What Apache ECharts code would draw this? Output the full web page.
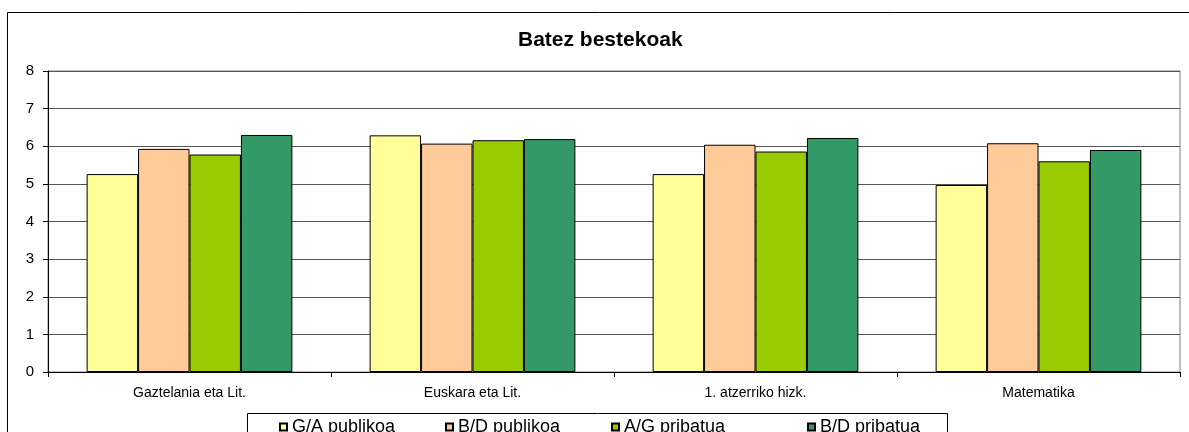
<!DOCTYPE html>
<html>
<head>
<meta charset="utf-8">
<title>Batez bestekoak</title>
<script src="https://cdn.jsdelivr.net/npm/echarts@6/dist/echarts.min.js"></script>
<style>
  html, body { margin: 0; padding: 0; background: #fff; }
  #main { width: 1189px; height: 432px; }
</style>
</head>
<body>
<div id="main"></div>
<script>
// datuak
var categories = ['Gaztelania eta Lit.', 'Euskara eta Lit.', '1. atzerriko hizk.', 'Matematika'];
var gaPublikoa = [5.26, 6.29, 5.26, 4.97];
var bdPublikoa = [5.93, 6.07, 6.04, 6.08];
var agPribatua = [5.78, 6.16, 5.86, 5.60];
var bdPribatua = [6.30, 6.19, 6.22, 5.90];
var seriesNames = ['G/A publikoa', 'B/D publikoa', 'A/G pribatua', 'B/D pribatua'];
var yTicks = [0, 1, 2, 3, 4, 5, 6, 7, 8];

var font = 'Liberation Sans, Arial, sans-serif';
var colors = ['#FFFF99', '#FFCC99', '#99CC00', '#339966'];
var values = [gaPublikoa, bdPublikoa, agPribatua, bdPribatua];

// legend bakoitza bere lekuan (Excel-en antzera)
var legendLeft = [279, 445, 611, 807];
var legends = seriesNames.map(function (name, i) {
  return {
    data: [name],
    left: legendLeft[i],
    top: 418,
    padding: 0,
    itemWidth: 7,
    itemHeight: 7,
    itemGap: 0,
    icon: 'rect',
    selectedMode: false,
    textStyle: { fontFamily: font, fontSize: 18, color: '#000' }
  };
});

var myChart = echarts.init(document.getElementById('main'));
myChart.setOption({
  animation: false,
  backgroundColor: '#fff',
  color: colors,
  title: {
    text: 'Batez bestekoak',
    left: 518,
    top: 30,
    padding: 0,
    textStyle: { fontFamily: font, fontSize: 21, fontWeight: 'bold', color: '#000' }
  },
  legend: legends,
  grid: {
    left: 48,
    right: 9,
    top: 71,
    bottom: 60,
    show: true,
    borderColor: '#808080',
    borderWidth: 1,
    containLabel: false
  },
  xAxis: {
    type: 'category',
    data: categories,
    axisLine: { lineStyle: { color: '#000', width: 1 } },
    axisTick: { show: true, length: 5, lineStyle: { color: '#000' } },
    axisLabel: { fontFamily: font, fontSize: 14, color: '#000', margin: 14 },
    splitLine: { show: false }
  },
  yAxis: {
    type: 'value',
    min: yTicks[0],
    max: yTicks[yTicks.length - 1],
    interval: 1,
    axisLine: { show: true, lineStyle: { color: '#000', width: 1 } },
    axisTick: { show: true, length: 5, lineStyle: { color: '#000' } },
    axisLabel: { fontFamily: font, fontSize: 15, color: '#000', margin: 14 },
    splitLine: { show: true, lineStyle: { color: '#555', width: 1 } }
  },
  series: seriesNames.map(function (name, i) {
    return {
      name: name,
      type: 'bar',
      data: values[i],
      barGap: '0%',
      barCategoryGap: '27.3%',
      itemStyle: { color: colors[i], borderColor: '#000', borderWidth: 1 }
    };
  }),
  graphic: [
    {
      // grafikoaren kanpoko ertza
      type: 'rect',
      silent: true,
      z: -1,
      shape: { x: 7.5, y: 12.5, width: 1200, height: 500 },
      style: { fill: null, stroke: '#000', lineWidth: 1 }
    },
    {
      // legendaren kutxa
      type: 'rect',
      silent: true,
      z: -1,
      shape: { x: 247.5, y: 413.5, width: 700, height: 40 },
      style: { fill: '#fff', stroke: '#000', lineWidth: 1 }
    }
  ]
});
</script>
</body>
</html>
